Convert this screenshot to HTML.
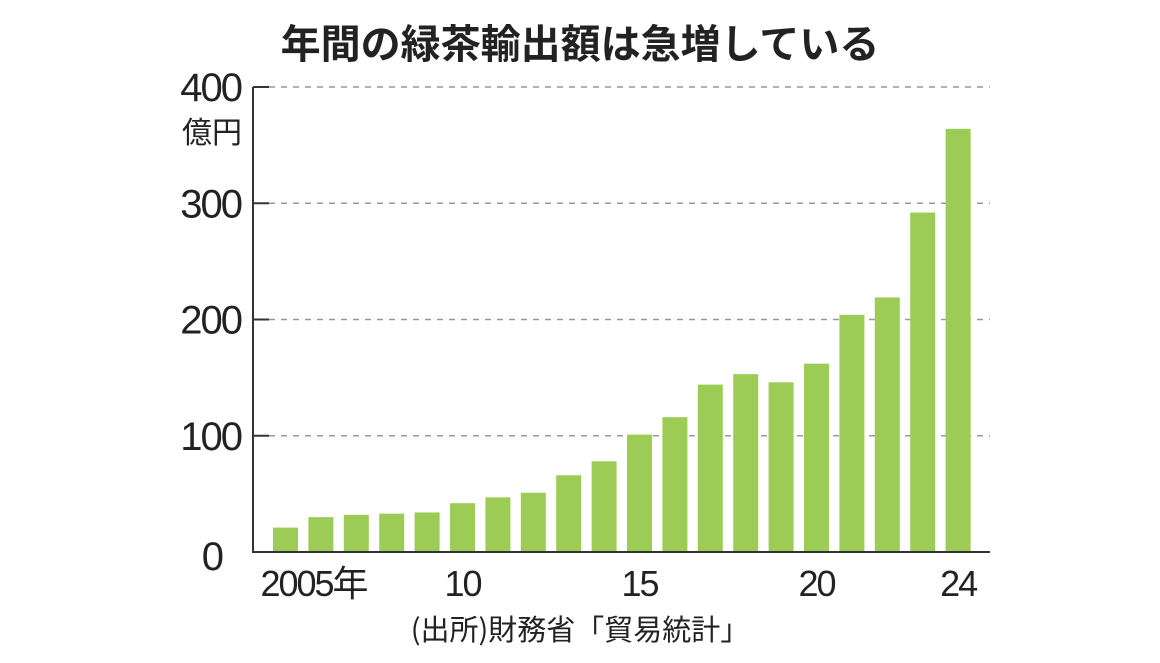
<!DOCTYPE html>
<html><head><meta charset="utf-8"><style>
body{margin:0;background:#fff;}
svg text{font-family:"Liberation Sans","Noto Sans CJK JP",sans-serif;fill:#222;}
</style></head><body>
<svg id="chart" width="1160" height="658" viewBox="0 0 1160 658" xmlns="http://www.w3.org/2000/svg">
<text x="580" y="58" text-anchor="middle" font-size="40" font-weight="bold" style="font-family:'Noto Sans CJK JP',sans-serif">年間の緑茶輸出額は急増している</text>
<g id="grid"></g>
<g id="bars"></g>
<g id="axes"></g>
<text x="212" y="143" text-anchor="middle" font-size="30" style="font-family:'Noto Sans CJK JP',sans-serif">億円</text>
<text x="580" y="640" text-anchor="middle" font-size="29" style="font-family:'Noto Sans CJK JP',sans-serif">(出所)財務省「貿易統計」</text>
</svg>
<script>
const years=[2005,2006,2007,2008,2009,2010,2011,2012,2013,2014,2015,2016,2017,2018,2019,2020,2021,2022,2023,2024];
const values=[21,30,32,33,34,42,47,51,66,78,101,116,144,153,146,162,204,219,292,364];
const yTicks=[0,100,200,300,400];
const xLabels={2005:"2005年",2010:"10",2015:"15",2020:"20",2024:"24"};
const NS="http://www.w3.org/2000/svg";
const x0=253,x1=990,yBase=552,yTop=87,yMax=400;
const y=v=>yBase-(v/yMax)*(yBase-yTop);
const step=35.4,bw=25,first=273;
const xb=i=>first+i*step;
function mk(t,a,p){const e=document.createElementNS(NS,t);for(const k in a)e.setAttribute(k,a[k]);p.appendChild(e);return e;}
const grid=document.getElementById('grid'),bars=document.getElementById('bars'),axes=document.getElementById('axes');
yTicks.forEach(v=>{
  if(v>0){
    const s=mk('line',{x1:x0,x2:x0+16,y1:y(v),y2:y(v),stroke:'#333','stroke-width':2},grid);
    
    
    const g=mk('line',{x1:x0+16,x2:x1,y1:y(v),y2:y(v),stroke:'#999','stroke-width':1.5,'stroke-dasharray':'6 6'},grid);
    
    
  }
  const t=mk('text',{x:v===0?222:241,y:y(v)+(v===0?18:14),'text-anchor':'end','font-size':40,'letter-spacing':'-2'},axes);
  t.textContent=v;
  
  
});
values.forEach((v,i)=>{
  const r=mk('rect',{x:xb(i),y:y(v),width:bw,height:yBase-y(v),fill:'#9ccc55'},bars);
  
  
  const lab=xLabels[years[i]];
  if(lab){
    const cx=xb(i)+bw/2+(i===0?28:0);
    const t=mk('text',{x:cx,y:596,'text-anchor':'middle','font-size':36,'letter-spacing':'-2'},axes);
    t.textContent=lab;
    
    
  }
});
const ya=mk('line',{x1:x0,x2:x0,y1:yTop,y2:yBase+1,stroke:'#333','stroke-width':2},axes);


const xa=mk('line',{x1:x0-1,x2:x1,y1:yBase,y2:yBase,stroke:'#333','stroke-width':2},axes);


</script>
</body></html>
